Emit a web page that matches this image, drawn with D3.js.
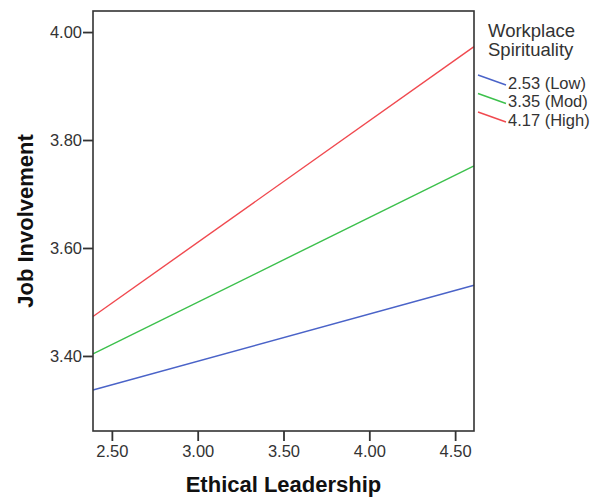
<!DOCTYPE html>
<html>
<head>
<meta charset="utf-8">
<script src="https://cdn.jsdelivr.net/npm/d3@7"></script>
<style>
  body { margin: 0; background: #fff; }
  text { font-family: "Liberation Sans", Arial, sans-serif; }
</style>
</head>
<body>
<script>
// simple slopes: job involvement vs ethical leadership, by workplace spirituality level
const xEnds = [2.39, 4.61];
const groups = ["2.53 (Low)", "3.35 (Mod)", "4.17 (High)"];
const lowVals = [3.337, 3.531];
const modVals = [3.404, 3.752];
const highVals = [3.473, 3.973];
const colors = ["#4a63c8", "#3cc04c", "#f0494f"];
const xTicks = [2.5, 3.0, 3.5, 4.0, 4.5];
const yTicks = [3.4, 3.6, 3.8, 4.0];

const series = [lowVals, modVals, highVals];

const outerWidth = 590, outerHeight = 498;
const margin = {top: 11, left: 93, right: 116, bottom: 67};
const width = outerWidth - margin.left - margin.right;
const height = outerHeight - margin.top - margin.bottom;

const svg = d3.select("body").append("svg")
    .attr("width", outerWidth)
    .attr("height", outerHeight);

const g = svg.append("g")
    .attr("transform", `translate(${margin.left},${margin.top})`);

const xScale = d3.scaleLinear().domain([2.39, 4.61]).range([0, width]);
const yScale = d3.scaleLinear().domain([3.261, 4.039]).range([height, 0]);

// lines
const line = d3.line()
    .x((d, i) => xScale(xEnds[i]))
    .y(d => yScale(d));

series.forEach((vals, i) => {
    g.append("path")
        .datum(vals)
        .attr("fill", "none")
        .attr("stroke", colors[i])
        .attr("stroke-width", 1.4)
        .attr("d", line);
});

// frame
g.append("rect")
    .attr("width", width)
    .attr("height", height)
    .attr("fill", "none")
    .attr("stroke", "#333")
    .attr("stroke-width", 1.6);

// axes
const xAxis = d3.axisBottom(xScale).tickValues(xTicks).tickFormat(d3.format(".2f"))
    .tickSize(10).tickPadding(4);
const yAxis = d3.axisLeft(yScale).tickValues(yTicks).tickFormat(d3.format(".2f"))
    .tickSize(10).tickPadding(1);

const gx = g.append("g").attr("transform", `translate(0,${height})`).call(xAxis);
const gy = g.append("g").call(yAxis);

[gx, gy].forEach(ax => {
    ax.attr("font-size", null).attr("font-family", null);
    ax.select(".domain").remove();
    ax.selectAll(".tick line").attr("stroke", "#333").attr("stroke-width", 1.8);
    ax.selectAll(".tick text")
        .style("font-size", "16.5px")
        .style("font-family", "'Liberation Sans', Arial, sans-serif")
        .attr("fill", "#333");
});

// axis titles
svg.append("text")
    .attr("x", margin.left + width / 2)
    .attr("y", 492)
    .attr("text-anchor", "middle")
    .attr("font-size", 22)
    .attr("font-weight", "bold")
    .attr("fill", "#111")
    .text("Ethical Leadership");

svg.append("text")
    .attr("transform", `translate(33,${margin.top + height / 2}) rotate(-90)`)
    .attr("text-anchor", "middle")
    .attr("font-size", 22)
    .attr("font-weight", "bold")
    .attr("fill", "#111")
    .text("Job Involvement");

// legend
const legend = svg.append("g");
legend.append("text").attr("x", 488).attr("y", 37)
    .attr("font-size", 18.5).attr("fill", "#333").text("Workplace");
legend.append("text").attr("x", 488).attr("y", 56)
    .attr("font-size", 18.5).attr("fill", "#333").text("Spirituality");

groups.forEach((name, i) => {
    const y0 = 75 + i * 18.5;
    legend.append("line")
        .attr("x1", 478).attr("y1", y0)
        .attr("x2", 506).attr("y2", y0 + 10)
        .attr("stroke", colors[i])
        .attr("stroke-width", 1.4);
    legend.append("text")
        .attr("x", 508)
        .attr("y", y0 + 13.5)
        .attr("font-size", 16.5)
        .attr("fill", "#333")
        .text(name);
});
</script>
</body>
</html>
